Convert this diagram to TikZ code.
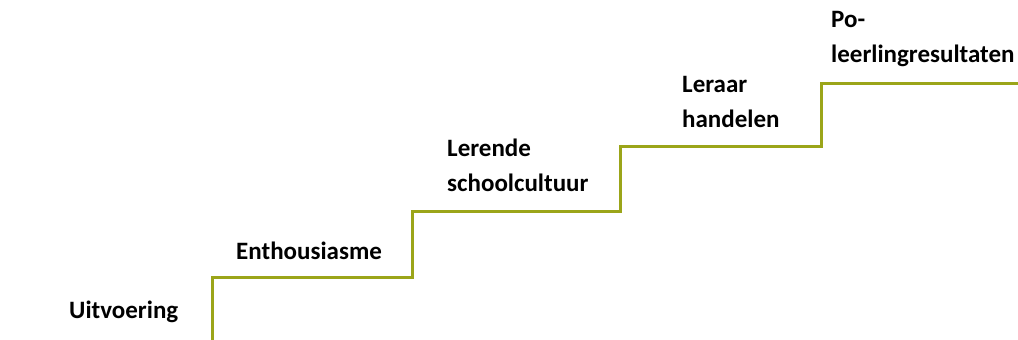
\documentclass[tikz,border=0pt]{standalone}
\usepackage{fontspec}
\setmainfont{Carlito}
\definecolor{stairgreen}{RGB}{155,165,25}
\begin{document}
\begin{tikzpicture}[x=1pt,y=-1pt,
  lbl/.style={anchor=base west,inner sep=0pt,align=left,font=\fontsize{25}{35}\selectfont\bfseries},
  stair/.style={draw=stairgreen,line width=3pt}]
\useasboundingbox (0,0) rectangle (1018,340);
\coordinate (s0) at (212,341);
\coordinate (s1) at (212,277);
\coordinate (s2) at (412,277);
\coordinate (s3) at (412,211);
\coordinate (s4) at (620,211);
\coordinate (s5) at (620,146);
\coordinate (s6) at (821,146);
\coordinate (s7) at (821,83);
\coordinate (s8) at (1019,83);
\draw[stair] (s0) -- (s1) -- (s2) -- (s3) -- (s4) -- (s5) -- (s6) -- (s7) -- (s8);
\node[lbl] (uit) at (69,318) {Uitvoering};
\node[lbl] (ent) at (236,259) {Enthousiasme};
\node[lbl] (ler) at (447,191) {Lerende\\schoolcultuur};
\node[lbl] (lea) at (682,127) {Leraar\\handelen};
\node[lbl] (pol) at (831,62) {Po-\\leerlingresultaten};
\end{tikzpicture}
\end{document}
